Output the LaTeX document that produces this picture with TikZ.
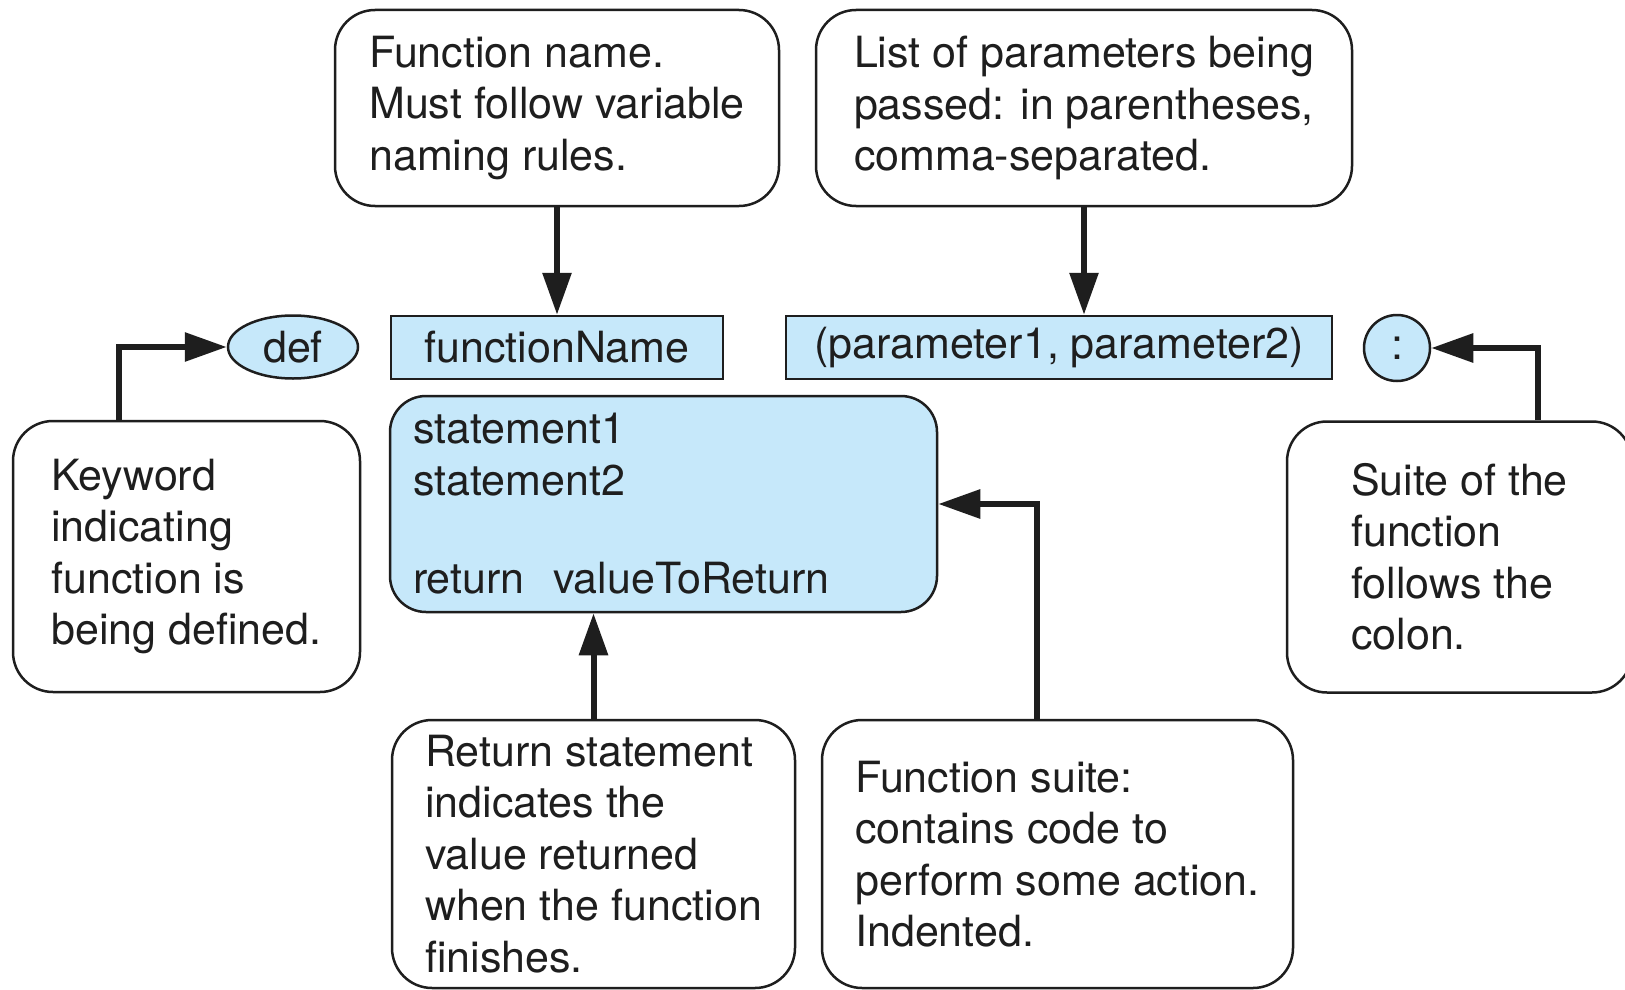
\documentclass[tikz,border=0pt]{standalone}
\usepackage{fontspec}
\setmainfont{TeX Gyre Heros}
\usetikzlibrary{arrows.meta,shapes.geometric}
\definecolor{codeblue}{RGB}{198,232,250}
\definecolor{ink}{RGB}{30,30,30}
\tikzset{
  txt/.style={font=\fontsize{43}{51.5}\selectfont, text=ink},
  callout/.style={txt, draw=ink, line width=2.5pt, rounded corners=40pt,
    align=left, inner sep=0pt},
  code/.style={txt, draw=ink, fill=codeblue, line width=2.5pt, inner sep=0pt},
  arr/.style={draw=ink, line width=6pt,
    -{Triangle[length=42pt,width=28pt]}},
}
\begin{document}
\begin{tikzpicture}[x=1pt,y=-1pt]
\clip (0,0) rectangle (1625,990);
\fill[white] (0,0) rectangle (1625,990);

% callouts above the header line
\node[callout, minimum width=444pt, minimum height=196pt] (fname) at (557,108)
  {Function name.\\Must follow variable\\naming rules.};
\node[callout, minimum width=536pt, minimum height=196pt] (params) at (1084,108)
  {List of parameters being\\passed: in parentheses,\\comma-separated.};

% the function header
\node[code, ellipse, minimum width=130pt, minimum height=63pt] (def) at (293,347) {def};
\node[code, minimum width=332pt, minimum height=63pt] (fn) at (557,347.5) {functionName};
\node[code, minimum width=546pt, minimum height=63pt] (prm) at (1059,347.5) {(parameter1, parameter2)};
\node[code, circle, minimum size=66pt] (colon) at (1397,348) {:};

% the function body
\node[code, rounded corners=36pt, minimum width=547pt, minimum height=216pt,
  text width=501pt, align=left, inner xsep=23pt] (body) at (663.5,504)
  {statement1\\statement2\\[47pt]return\ \ valueToReturn};

% side callouts
\node[callout, minimum width=347pt, minimum height=271pt] (kw) at (186.5,556.5)
  {Keyword\\indicating\\function is\\being defined.};
\node[callout, minimum width=345pt, minimum height=271pt] (suite) at (1459.5,557)
  {Suite of the\\function\\follows the\\colon.};

% callouts below the body
\node[callout, minimum width=403pt, minimum height=268pt] (ret) at (593.5,854)
  {Return statement\\indicates the\\value returned\\when the function\\finishes.};
\node[callout, minimum width=471pt, minimum height=268pt] (fsuite) at (1057.5,854)
  {Function suite:\\contains code to\\perform some action.\\Indented.};

% connectors
\draw[arr] (fname.south) -- (fname.south |- fn.north);
\draw[arr] (params.south) -- (params.south |- prm.north);
\draw[arr] ([xshift=107pt]kw.north west) |- (def.west);
\draw[arr] ([xshift=252pt]suite.north west) |- (colon.east);
\draw[arr] (ret.north) -- (ret.north |- body.south);
\draw[arr] ([xshift=-20.5pt]fsuite.north) |- (body.east);
\end{tikzpicture}
\end{document}
